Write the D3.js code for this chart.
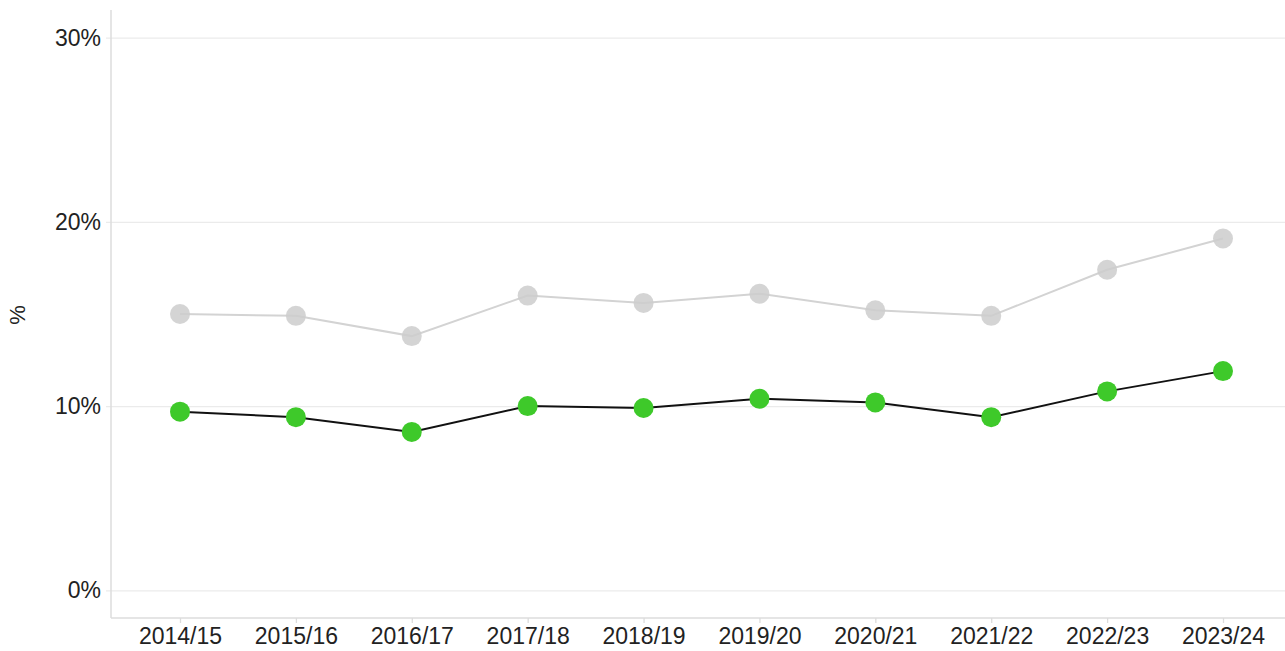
<!DOCTYPE html>
<html><head><meta charset="utf-8">
<script src="https://cdn.jsdelivr.net/npm/d3@7"></script>
<style>body{margin:0;background:#fff}svg{display:block;font-family:"Liberation Sans",Arial,sans-serif}</style>
</head><body><svg id="c" width="1285" height="651"></svg>
<script>
const categories = ["2014/15","2015/16","2016/17","2017/18","2018/19","2019/20","2020/21","2021/22","2022/23","2023/24"];
const seriesGreen = [9.7, 9.4, 8.6, 10.0, 9.9, 10.4, 10.2, 9.4, 10.8, 11.9];
const seriesGrey = [15.0, 14.9, 13.8, 16.0, 15.6, 16.1, 15.2, 14.9, 17.4, 19.1];
const yTicks = [0, 10, 20, 30];

(function () {
const svg = d3.select("#c");
const mLeft = 111, mRight = 1285, mTop = 10, mBottom = 618;
const x = d3.scalePoint().domain(categories).range([180, 1223]);
const y = d3.scaleLinear().domain([-1.5, 31.5]).range([mBottom, mTop]);

const ya = svg.append("g").attr("transform", `translate(${mLeft},0)`)
  .call(d3.axisLeft(y).tickValues(yTicks).tickSize(-(mRight-mLeft)).tickPadding(10).tickFormat(d => d + "%"));
ya.select(".domain").remove();
ya.selectAll(".tick line").attr("stroke", "#ebebeb").attr("stroke-width", 1.3).attr("x1", -5);
ya.selectAll(".tick text").attr("font-size", 23).attr("fill", "#222").attr("font-family", "Liberation Sans, Arial, sans-serif");

svg.append("line").attr("x1", mLeft).attr("x2", mLeft).attr("y1", mTop).attr("y2", mBottom).attr("stroke", "#dcdcdc").attr("stroke-width", 1.5);
svg.append("line").attr("x1", mLeft).attr("x2", mRight).attr("y1", mBottom).attr("y2", mBottom).attr("stroke", "#dcdcdc").attr("stroke-width", 1.5);

const xa = svg.append("g").attr("transform", `translate(0,${mBottom})`)
  .call(d3.axisBottom(x).tickSize(5).tickPadding(5));
xa.select(".domain").remove();
xa.selectAll(".tick line").attr("stroke", "#dcdcdc").attr("stroke-width", 1.3);
xa.selectAll(".tick text").attr("font-size", 23).attr("fill", "#222").attr("font-family", "Liberation Sans, Arial, sans-serif");

svg.append("text").attr("transform", `translate(25,315) rotate(-90)`).attr("text-anchor", "middle")
  .attr("font-size", 22).attr("fill", "#222").text("%");

const line = d3.line().x((d, i) => x(categories[i])).y(d => y(d));

svg.append("path").datum(seriesGrey).attr("d", line).attr("fill", "none").attr("stroke", "#d3d3d3").attr("stroke-width", 2);
svg.append("g").selectAll("circle").data(seriesGrey).join("circle")
  .attr("cx", (d, i) => x(categories[i])).attr("cy", d => y(d)).attr("r", 10)
  .attr("fill", "#cccccc").attr("fill-opacity", 0.85);

svg.append("path").datum(seriesGreen).attr("d", line).attr("fill", "none").attr("stroke", "#111").attr("stroke-width", 2);
svg.append("g").selectAll("circle").data(seriesGreen).join("circle")
  .attr("cx", (d, i) => x(categories[i])).attr("cy", d => y(d)).attr("r", 10)
  .attr("fill", "#3ec92a");
})();
</script></body></html>
